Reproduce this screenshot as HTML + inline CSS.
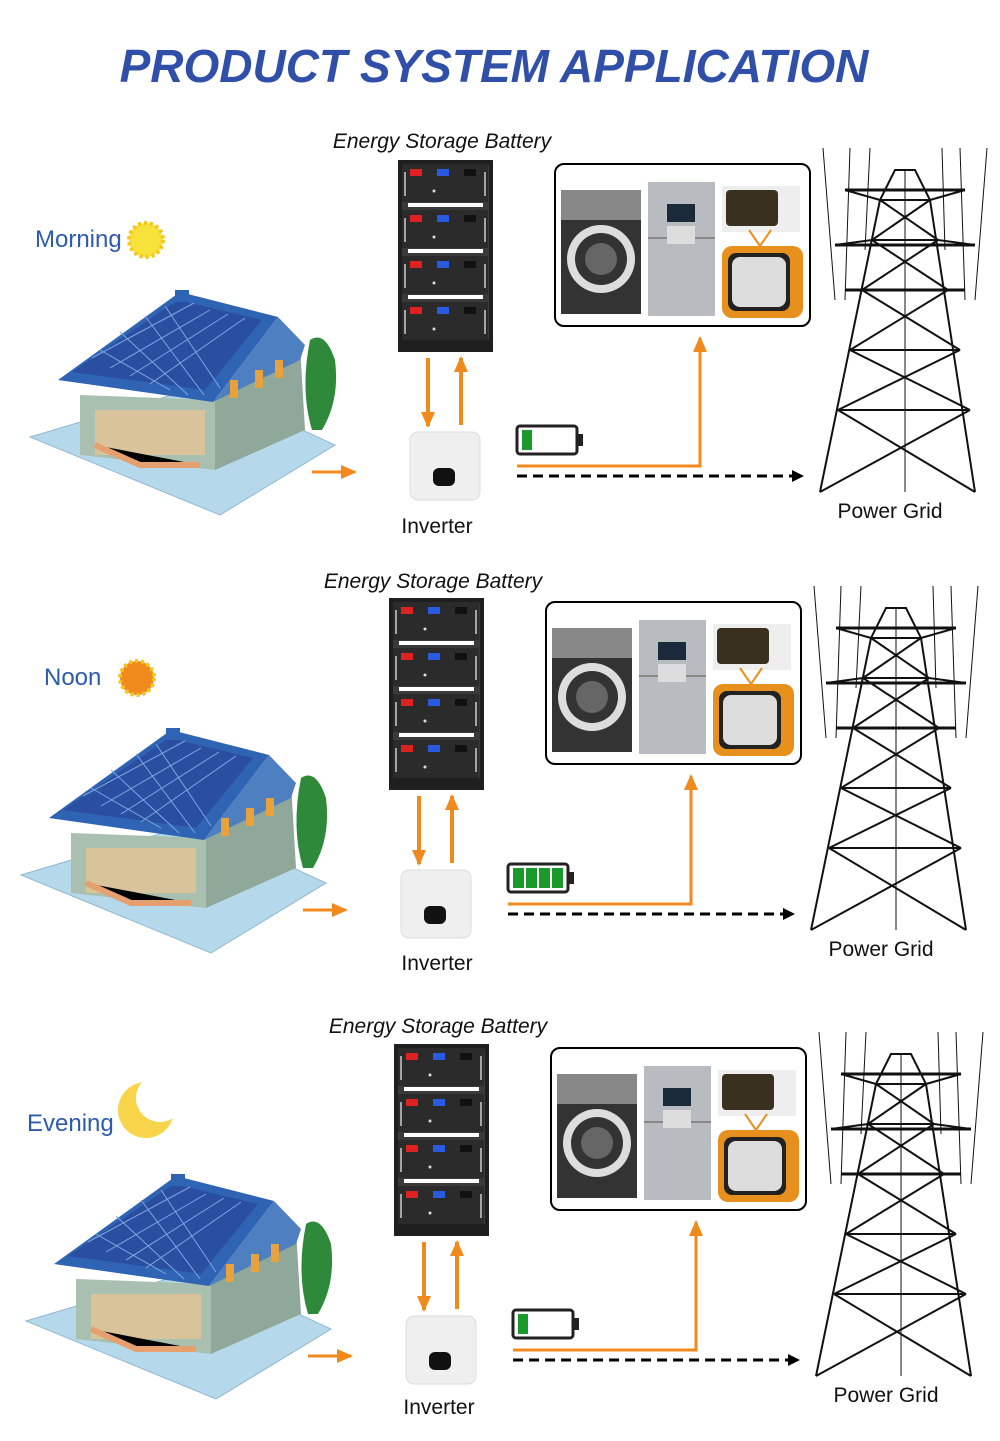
<!DOCTYPE html>
<html><head><meta charset="utf-8"><style>
body{margin:0;background:#fff;}
svg{display:block}
text{font-family:"Liberation Sans",sans-serif;}
</style></head><body>
<svg width="1000" height="1441" viewBox="0 0 1000 1441" xmlns="http://www.w3.org/2000/svg">
<defs>
<marker id="ah" markerWidth="16" markerHeight="14" refX="14" refY="7" orient="auto" markerUnits="userSpaceOnUse"><path d="M0,0L16,7L0,14z" fill="#f08a1c"/></marker>
<marker id="ak" markerWidth="12" markerHeight="12" refX="11" refY="6" orient="auto" markerUnits="userSpaceOnUse"><path d="M0,0L12,6L0,12z" fill="#000"/></marker>
<g id="module">
<rect x="0" y="0" width="86" height="38" fill="#2b2b2b"/>
<rect x="8" y="5" width="12" height="7" fill="#d22"/>
<rect x="35" y="5" width="12" height="7" fill="#2a5ae0"/>
<rect x="62" y="5" width="12" height="7" fill="#111"/>
<circle cx="32" cy="27" r="1.5" fill="#ddd"/>
<path d="M3,8v24M83,8v24" stroke="#ccc" stroke-width="1.5"/>
</g>
<g id="battery">
<rect x="0" y="0" width="95" height="192" fill="#1f1f1f"/>
<rect x="4" y="5" width="87" height="175" fill="#3a3a3a"/>
<use href="#module" x="4" y="4"/>
<use href="#module" x="4" y="50"/>
<use href="#module" x="4" y="96"/>
<use href="#module" x="4" y="142"/>
<rect x="10" y="43" width="75" height="4" fill="#fff"/>
<rect x="10" y="89" width="75" height="4" fill="#fff"/>
<rect x="10" y="135" width="75" height="4" fill="#fff"/>
</g>
<g id="apps">
<rect x="0" y="0" width="255" height="162" rx="9" fill="#fff" stroke="#000" stroke-width="2"/>
<rect x="6" y="26" width="80" height="124" fill="#333"/>
<rect x="6" y="26" width="80" height="30" fill="#888"/>
<circle cx="46" cy="95" r="34" fill="#ddd"/><circle cx="46" cy="95" r="26" fill="#333"/><circle cx="46" cy="95" r="16" fill="#666"/>
<rect x="93" y="18" width="67" height="134" fill="#b8bcc0"/>
<rect x="93" y="73" width="67" height="2" fill="#888"/>
<rect x="112" y="40" width="28" height="18" fill="#1b2a3a"/>
<rect x="112" y="62" width="28" height="18" fill="#ddd"/>
<rect x="167" y="22" width="78" height="46" fill="#eee"/>
<rect x="171" y="26" width="52" height="36" rx="4" fill="#3a3020"/>
<rect x="167" y="82" width="81" height="72" rx="10" fill="#e8901e"/>
<rect x="173" y="89" width="62" height="58" rx="8" fill="#222"/>
<rect x="177" y="93" width="54" height="50" rx="8" fill="#ddd"/>
<path d="M205,82L194,66M205,82L216,66" stroke="#e8901e" stroke-width="2"/>
</g>
<g id="tower" fill="none" stroke="#111" stroke-width="2">
<path d="M820,492L880,200L895,170L915,170L930,200L975,492"/>
<path d="M880,200L930,200M872,240L938,240M862,290L948,290M850,350L960,350M838,410L970,410"/>
<path d="M880,200L938,240M930,200L872,240M872,240L948,290M938,240L862,290M862,290L960,350M948,290L850,350M850,350L970,410M960,350L838,410M838,410L975,492M970,410L820,492"/>
<path d="M845,190L965,190M835,245L975,245M845,290L965,290" stroke-width="3"/>
<path d="M845,190L880,200M965,190L930,200M835,245L872,240M975,245L938,240"/>
<path d="M905,170L905,492" stroke-width="1"/>
<path d="M850,148L845,300M870,148L865,250M942,148L945,250M960,148L965,300M987,148L975,300M823,148L835,300" stroke-width="1"/>
</g>
<g id="house">
<polygon points="30,437 205,385 335,445 220,515" fill="#b5d8ea" stroke="#8fb8d0"/>
<polygon points="80,395 215,400 215,470 80,455" fill="#a9c0b0"/>
<polygon points="215,400 300,345 305,430 215,470" fill="#8fa89a"/>
<polygon points="58,380 180,292 278,317 213,402" fill="#2f64b4"/>
<polygon points="72,372 178,300 262,320 205,390" fill="#2a4fa0"/>
<path d="M92,358L194,303M110,368L210,310M130,376L228,314M150,384L245,318M120,332L188,395M145,316L204,395M165,306L220,388M100,350L170,390" stroke="#7ea6e0" stroke-width="1"/>
<polygon points="213,402 278,317 305,345 300,360" fill="#4e7fc0"/>
<rect x="175" y="290" width="14" height="12" fill="#2f64b4"/>
<path d="M310,340 Q325,330 335,360 Q340,400 322,430 L312,430 Q300,390 310,340z" fill="#2e8a3a"/>
<rect x="95" y="410" width="110" height="45" fill="#d9c39a"/>
<path d="M95,445L140,465L200,465" stroke="#e6a070" stroke-width="6"/>
<rect x="230" y="380" width="8" height="18" fill="#e8a23c"/><rect x="255" y="370" width="8" height="18" fill="#e8a23c"/><rect x="275" y="360" width="8" height="18" fill="#e8a23c"/>
</g>
</defs>

<text x="494" y="82" text-anchor="middle" font-size="46" font-weight="bold" font-style="italic" fill="#2f4fa8">PRODUCT SYSTEM APPLICATION</text>

<!-- Section 1 -->
<g>
<text x="442" y="148" text-anchor="middle" font-size="21" font-style="italic" fill="#111">Energy Storage Battery</text>
<use href="#battery" x="398" y="160"/>
<use href="#apps" x="555" y="164"/>
<use href="#tower"/>
<text x="890" y="518" text-anchor="middle" font-size="21" fill="#111">Power Grid</text>
<use href="#house"/>
<text x="35" y="247" font-size="24" fill="#2d5bb0">Morning</text>
<circle cx="146" cy="240" r="17" fill="#f7e23a" stroke="#f5c518" stroke-width="4" stroke-dasharray="3 3"/>
<line x1="312" y1="472" x2="355" y2="472" stroke="#f08a1c" stroke-width="3" marker-end="url(#ah)"/>
<line x1="428" y1="358" x2="428" y2="426" stroke="#f08a1c" stroke-width="4" marker-end="url(#ah)"/>
<line x1="461" y1="425" x2="461" y2="358" stroke="#f08a1c" stroke-width="4" marker-end="url(#ah)"/>
<rect x="410" y="432" width="70" height="68" rx="8" fill="#efefef" stroke="#ddd"/>
<rect x="433" y="468" width="22" height="18" rx="6" fill="#111"/>
<text x="437" y="533" text-anchor="middle" font-size="21" fill="#111">Inverter</text>
<rect x="517" y="426" width="60" height="28" rx="3" fill="#fff" stroke="#222" stroke-width="3"/><rect x="578" y="434" width="5" height="12" fill="#222"/>
<rect x="522" y="430" width="10" height="20" fill="#1a9a2a"/>
<polyline points="517,466 700,466 700,338" fill="none" stroke="#f08a1c" stroke-width="3" marker-end="url(#ah)"/>
<line x1="517" y1="476" x2="803" y2="476" stroke="#000" stroke-width="3" stroke-dasharray="10 6" marker-end="url(#ak)"/>
</g>

<!-- Section 2 -->
<g transform="translate(-9,438)">
<text x="442" y="150" text-anchor="middle" font-size="21" font-style="italic" fill="#111">Energy Storage Battery</text>
<use href="#battery" x="398" y="160"/>
<use href="#apps" x="555" y="164"/>
<use href="#tower"/>
<text x="890" y="518" text-anchor="middle" font-size="21" fill="#111">Power Grid</text>
<use href="#house"/>
<text x="53" y="247" font-size="24" fill="#2d5bb0">Noon</text>
<circle cx="146" cy="240" r="17" fill="#f08a1c" stroke="#f5c518" stroke-width="4" stroke-dasharray="3 3"/>
<line x1="312" y1="472" x2="355" y2="472" stroke="#f08a1c" stroke-width="3" marker-end="url(#ah)"/>
<line x1="428" y1="358" x2="428" y2="426" stroke="#f08a1c" stroke-width="4" marker-end="url(#ah)"/>
<line x1="461" y1="425" x2="461" y2="358" stroke="#f08a1c" stroke-width="4" marker-end="url(#ah)"/>
<rect x="410" y="432" width="70" height="68" rx="8" fill="#efefef" stroke="#ddd"/>
<rect x="433" y="468" width="22" height="18" rx="6" fill="#111"/>
<text x="446" y="532" text-anchor="middle" font-size="21" fill="#111">Inverter</text>
<rect x="517" y="426" width="60" height="28" rx="3" fill="#fff" stroke="#222" stroke-width="3"/><rect x="578" y="434" width="5" height="12" fill="#222"/>
<rect x="522" y="430" width="11" height="20" fill="#1a9a2a"/><rect x="535" y="430" width="11" height="20" fill="#1a9a2a"/><rect x="548" y="430" width="11" height="20" fill="#1a9a2a"/><rect x="561" y="430" width="11" height="20" fill="#1a9a2a"/>
<polyline points="517,466 700,466 700,338" fill="none" stroke="#f08a1c" stroke-width="3" marker-end="url(#ah)"/>
<line x1="517" y1="476" x2="803" y2="476" stroke="#000" stroke-width="3" stroke-dasharray="10 6" marker-end="url(#ak)"/>
</g>

<!-- Section 3 -->
<g transform="translate(-4,884)">
<text x="442" y="149" text-anchor="middle" font-size="21" font-style="italic" fill="#111">Energy Storage Battery</text>
<use href="#battery" x="398" y="160"/>
<use href="#apps" x="555" y="164"/>
<use href="#tower"/>
<text x="890" y="518" text-anchor="middle" font-size="21" fill="#111">Power Grid</text>
<use href="#house"/>
<text x="31" y="247" font-size="24" fill="#2d5bb0">Evening</text>
<circle cx="150" cy="226" r="28" fill="#f7d44a"/>
<circle cx="164" cy="214" r="24" fill="#fff"/>
<line x1="312" y1="472" x2="355" y2="472" stroke="#f08a1c" stroke-width="3" marker-end="url(#ah)"/>
<line x1="428" y1="358" x2="428" y2="426" stroke="#f08a1c" stroke-width="4" marker-end="url(#ah)"/>
<line x1="461" y1="425" x2="461" y2="358" stroke="#f08a1c" stroke-width="4" marker-end="url(#ah)"/>
<rect x="410" y="432" width="70" height="68" rx="8" fill="#efefef" stroke="#ddd"/>
<rect x="433" y="468" width="22" height="18" rx="6" fill="#111"/>
<text x="443" y="530" text-anchor="middle" font-size="21" fill="#111">Inverter</text>
<rect x="517" y="426" width="60" height="28" rx="3" fill="#fff" stroke="#222" stroke-width="3"/><rect x="578" y="434" width="5" height="12" fill="#222"/>
<rect x="522" y="430" width="10" height="20" fill="#1a9a2a"/>
<polyline points="517,466 700,466 700,338" fill="none" stroke="#f08a1c" stroke-width="3" marker-end="url(#ah)"/>
<line x1="517" y1="476" x2="803" y2="476" stroke="#000" stroke-width="3" stroke-dasharray="10 6" marker-end="url(#ak)"/>
</g>
</svg>
</body></html>
